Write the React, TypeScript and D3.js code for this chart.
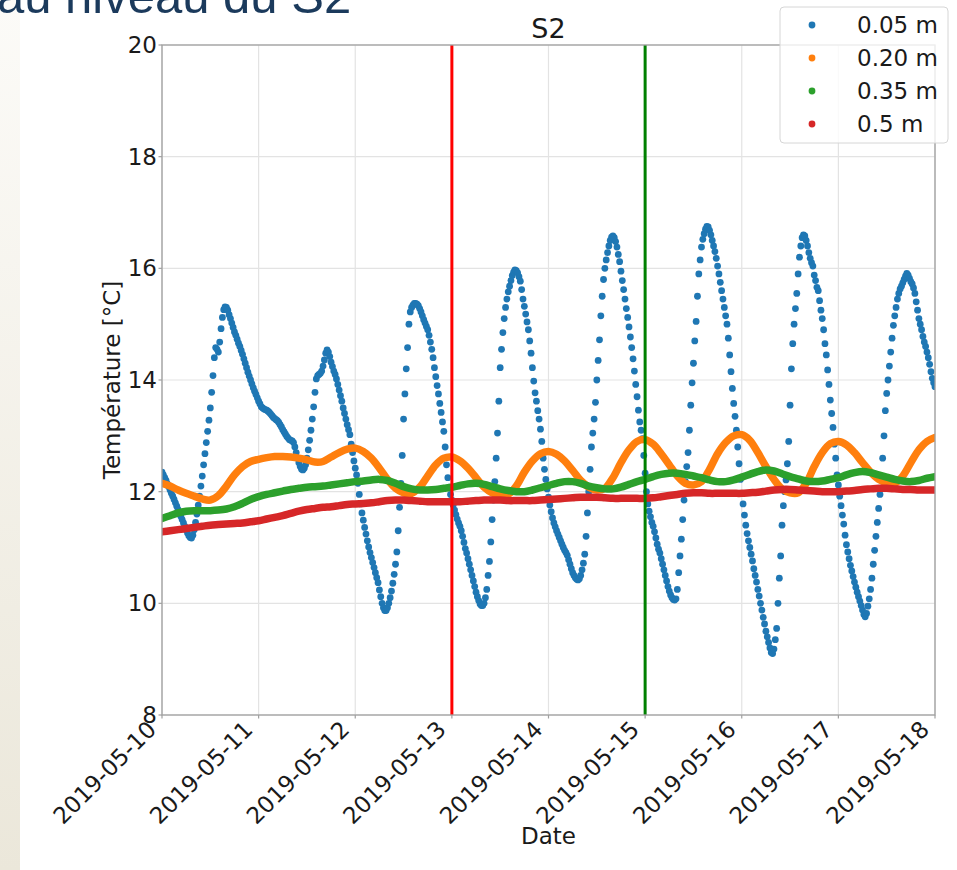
import React from 'react';
import * as d3 from 'd3';

const W = 957;
const H = 870;

const startDate = '2019-05-10';
const blueStepMinutes = 20;
const bandStepMinutes = 120;

const dateTicks = ['2019-05-10', '2019-05-11', '2019-05-12', '2019-05-13', '2019-05-14', '2019-05-15', '2019-05-16', '2019-05-17', '2019-05-18'];
const tempTicks = [8, 10, 12, 14, 16, 18, 20];
const legendLabels = ['0.05 m', '0.20 m', '0.35 m', '0.5 m'];
const seriesColors = ['#1f77b4', '#ff7f0e', '#2ca02c', '#d62728'];
const markerDates = ['2019-05-13', '2019-05-15'];
const markerColors = ['#ff0000', '#008000'];

// 0.05 m, every 20 minutes
const temp005 = [
  // 05-10
  12.35, 12.30, 12.25, 12.20, 12.14, 12.09, 12.03, 11.97, 11.92, 11.86, 11.80, 11.74,
  11.68, 11.62, 11.56, 11.50, 11.44, 11.38, 11.32, 11.26, 11.21, 11.18, 11.17, 11.22,
  11.32, 11.45, 11.60, 11.76, 11.92, 12.10, 12.28, 12.48, 12.68, 12.88, 13.08, 13.28,
  13.50, 13.78, 14.08, 14.40, 14.58, 14.55, 14.50, 14.68, 14.92, 15.12, 15.26, 15.31,
  15.30, 15.25, 15.17, 15.10, 15.02, 14.94, 14.86, 14.80, 14.73, 14.66, 14.60, 14.53,
  14.46, 14.38, 14.30, 14.22, 14.14, 14.07, 14.00, 13.93, 13.86, 13.80, 13.74, 13.68,
  // 05-11
  13.62, 13.57, 13.52, 13.50, 13.48, 13.47, 13.46, 13.44, 13.42, 13.39, 13.36, 13.33,
  13.31, 13.29, 13.27, 13.24, 13.20, 13.16, 13.11, 13.07, 13.03, 12.99, 12.96, 12.93,
  12.92, 12.91, 12.88, 12.80, 12.70, 12.60, 12.52, 12.45, 12.40, 12.39, 12.42, 12.48,
  12.60, 12.75, 12.92, 13.10, 13.30, 13.52, 13.78, 14.02, 14.08, 14.10, 14.12, 14.16,
  14.25, 14.36, 14.48, 14.54, 14.50, 14.42, 14.32, 14.24, 14.16, 14.10, 14.02, 13.92,
  13.82, 13.72, 13.62, 13.50, 13.40, 13.30, 13.20, 13.11, 13.02, 12.85, 12.70, 12.55,
  // 05-12
  12.42, 12.30, 12.15, 11.95, 11.78, 11.62, 11.49, 11.36, 11.24, 11.12, 11.01, 10.91,
  10.82, 10.73, 10.64, 10.55, 10.46, 10.37, 10.24, 10.12, 10.00, 9.92, 9.87, 9.87,
  9.92, 10.00, 10.10, 10.22, 10.36, 10.52, 10.70, 10.92, 11.30, 11.72, 12.15, 12.65,
  13.30, 13.75, 14.20, 14.58, 15.00, 15.22, 15.30, 15.34, 15.37, 15.37, 15.36, 15.33,
  15.28, 15.22, 15.15, 15.08, 15.02, 14.96, 14.90, 14.80, 14.68, 14.55, 14.40, 14.22,
  14.06, 13.90, 13.75, 13.58, 13.42, 13.25, 13.08, 12.80, 12.48, 12.25, 12.08, 11.95,
  // 05-13
  11.85, 11.76, 11.67, 11.59, 11.51, 11.44, 11.38, 11.30, 11.20, 11.09, 10.98, 10.90,
  10.80, 10.70, 10.60, 10.50, 10.40, 10.30, 10.20, 10.12, 10.05, 9.99, 9.96, 9.96,
  10.00, 10.10, 10.25, 10.50, 10.75, 11.10, 11.50, 11.85, 12.18, 12.60, 13.05, 13.62,
  14.22, 14.55, 14.85, 15.10, 15.30, 15.45, 15.58, 15.68, 15.78, 15.87, 15.93, 15.97,
  15.96, 15.92, 15.85, 15.77, 15.62, 15.45, 15.32, 15.18, 15.04, 14.90, 14.70, 14.48,
  14.22, 13.98, 13.77, 13.62, 13.45, 13.30, 13.12, 12.90, 12.60, 12.40, 12.22, 12.05,
  // 05-14
  11.90, 11.76, 11.64, 11.53, 11.44, 11.37, 11.30, 11.24, 11.18, 11.12, 11.06, 11.00,
  10.95, 10.91, 10.86, 10.78, 10.70, 10.62, 10.55, 10.50, 10.46, 10.43, 10.42, 10.44,
  10.50, 10.60, 10.72, 10.88, 11.20, 11.62, 12.00, 12.40, 12.80, 13.05, 13.30, 13.60,
  14.00, 14.35, 14.72, 15.15, 15.50, 15.80, 16.00, 16.15, 16.28, 16.40, 16.50, 16.56,
  16.58, 16.55, 16.48, 16.38, 16.25, 16.12, 15.95, 15.78, 15.62, 15.45, 15.28, 15.12,
  14.95, 14.77, 14.58, 14.38, 14.16, 13.92, 13.70, 13.46, 13.25, 13.10, 12.95, 12.65,
  // 05-15
  12.33, 12.00, 11.78, 11.65, 11.55, 11.45, 11.38, 11.28, 11.17, 11.06, 10.97, 10.90,
  10.80, 10.70, 10.60, 10.50, 10.40, 10.30, 10.22, 10.15, 10.10, 10.07, 10.06, 10.08,
  10.25, 10.55, 10.85, 11.15, 11.50, 11.85, 12.18, 12.45, 12.70, 13.10, 13.55, 13.95,
  14.30, 14.70, 15.05, 15.50, 15.90, 16.15, 16.38, 16.52, 16.62, 16.70, 16.75, 16.74,
  16.68, 16.60, 16.50, 16.40, 16.30, 16.18, 16.04, 15.90, 15.75, 15.60, 15.45, 15.30,
  15.15, 15.00, 14.75, 14.45, 14.15, 13.85, 13.58, 13.35, 13.10, 12.80, 12.50, 12.22,
  // 05-16
  11.97, 11.78, 11.58, 11.40, 11.25, 11.12, 11.00, 10.88, 10.76, 10.62, 10.50, 10.38,
  10.25, 10.13, 10.00, 9.88, 9.75, 9.63, 9.50, 9.40, 9.30, 9.20, 9.12, 9.10,
  9.18, 9.35, 9.55, 10.00, 10.45, 10.85, 11.40, 11.75, 12.00, 12.21, 12.50, 12.90,
  13.55, 14.20, 14.65, 15.00, 15.28, 15.55, 15.90, 16.20, 16.40, 16.55, 16.60, 16.58,
  16.50, 16.40, 16.28, 16.18, 16.10, 16.04, 15.88, 15.78, 15.66, 15.60, 15.42, 15.25,
  15.10, 14.90, 14.65, 14.45, 14.18, 13.92, 13.64, 13.40, 13.15, 12.85, 12.60, 12.30,
  // 05-17
  12.12, 11.92, 11.75, 11.58, 11.42, 11.22, 11.05, 10.92, 10.80, 10.68, 10.58, 10.48,
  10.38, 10.29, 10.20, 10.12, 10.04, 9.96, 9.88, 9.80, 9.76, 9.82, 9.95, 10.08,
  10.25, 10.45, 10.70, 10.95, 11.20, 11.45, 11.70, 11.95, 12.25, 12.60, 13.00, 13.45,
  13.76, 14.00, 14.25, 14.50, 14.75, 14.98, 15.15, 15.30, 15.45, 15.55, 15.63, 15.68,
  15.74, 15.80, 15.86, 15.91, 15.88, 15.82, 15.76, 15.72, 15.65, 15.55, 15.40, 15.25,
  15.10, 15.00, 14.90, 14.78, 14.68, 14.60, 14.50, 14.40, 14.28, 14.15, 14.03, 13.95,
  // 05-18 00:00
  13.88,
];

// 0.20 m, every 2 hours
const temp020 = [
  12.15, 12.10, 12.03, 11.97, 11.92, 11.87, 11.85, 11.93, 12.10, 12.30, 12.45, 12.54,
  12.58, 12.61, 12.63, 12.63, 12.62, 12.60, 12.57, 12.53, 12.54, 12.62, 12.70, 12.76,
  12.78, 12.72, 12.60, 12.42, 12.22, 12.06, 11.98, 11.97, 12.08, 12.28, 12.48, 12.60,
  12.62, 12.55, 12.42, 12.25, 12.08, 11.98, 11.94, 11.95, 12.10, 12.35, 12.55, 12.68,
  12.72, 12.67, 12.55, 12.38, 12.20, 12.08, 12.03, 12.06, 12.25, 12.52, 12.75, 12.90,
  12.93, 12.85, 12.68, 12.48, 12.28, 12.15, 12.12, 12.18, 12.40, 12.68, 12.88, 13.00,
  13.02, 12.92, 12.70, 12.45, 12.22, 12.05, 11.98, 11.98, 12.15, 12.45, 12.70, 12.86,
  12.90, 12.84, 12.70, 12.52, 12.35, 12.22, 12.16, 12.15, 12.28, 12.52, 12.75, 12.90,
  12.97,
];

// 0.35 m, every 2 hours
const temp035 = [
  11.52, 11.57, 11.62, 11.65, 11.66, 11.66, 11.66, 11.67, 11.69, 11.73, 11.79, 11.86,
  11.91, 11.95, 11.98, 12.01, 12.04, 12.06, 12.08, 12.09, 12.10, 12.12, 12.14, 12.16,
  12.18, 12.19, 12.21, 12.22, 12.20, 12.15, 12.09, 12.05, 12.03, 12.03, 12.04, 12.06,
  12.08, 12.11, 12.14, 12.15, 12.13, 12.09, 12.05, 12.02, 12.00, 12.00, 12.03, 12.07,
  12.11, 12.15, 12.18, 12.18, 12.15, 12.10, 12.07, 12.05, 12.05, 12.08, 12.13, 12.18,
  12.22, 12.27, 12.31, 12.33, 12.33, 12.31, 12.28, 12.25, 12.21, 12.18, 12.18, 12.21,
  12.26, 12.31, 12.36, 12.39, 12.37, 12.32, 12.27, 12.23, 12.19, 12.18, 12.19, 12.22,
  12.25, 12.30, 12.34, 12.36, 12.34, 12.30, 12.26, 12.22, 12.19, 12.18, 12.20, 12.24,
  12.27,
];

// 0.5 m, every 2 hours
const temp050 = [
  11.28, 11.30, 11.32, 11.34, 11.36, 11.38, 11.40, 11.41, 11.42, 11.43, 11.44, 11.46,
  11.48, 11.51, 11.54, 11.57, 11.61, 11.65, 11.68, 11.70, 11.72, 11.73, 11.75, 11.77,
  11.78, 11.79, 11.80, 11.82, 11.84, 11.85, 11.85, 11.84, 11.83, 11.82, 11.82, 11.82,
  11.82, 11.82, 11.83, 11.84, 11.85, 11.85, 11.85, 11.84, 11.84, 11.84, 11.84, 11.85,
  11.86, 11.87, 11.88, 11.89, 11.90, 11.90, 11.90, 11.89, 11.88, 11.88, 11.88, 11.88,
  11.88, 11.89, 11.91, 11.93, 11.95, 11.97, 11.98, 11.98, 11.97, 11.97, 11.97, 11.97,
  11.97, 11.98, 11.99, 12.01, 12.03, 12.04, 12.04, 12.03, 12.02, 12.01, 12.00, 12.00,
  12.00, 12.01, 12.02, 12.04, 12.05, 12.06, 12.06, 12.05, 12.04, 12.04, 12.03, 12.03,
  12.03,
];

const FONT = 'DejaVu Sans, sans-serif';

const parseDay = d3.utcParse('%Y-%m-%d');

export default function App() {
  const t0 = parseDay(startDate) as Date;
  const x = d3
    .scaleUtc()
    .domain([parseDay(dateTicks[0]) as Date, parseDay(dateTicks[dateTicks.length - 1]) as Date])
    .range([162, 935]);
  const y = d3.scaleLinear().domain([8, 20]).range([715, 45]);
  const [x0, x1] = x.range();
  const [yb, yt] = y.range();

  const timeAt = (i: number, stepMin: number) => new Date(t0.getTime() + i * stepMin * 60000);

  const bandSeries = [temp020, temp035, temp050];
  const line = d3
    .line<number>()
    .x((_, i) => x(timeAt(i, bandStepMinutes)))
    .y((v) => y(v))
    .curve(d3.curveCatmullRom.alpha(0.5));

  return (
    <svg
      width={W}
      height={H}
      viewBox={`0 0 ${W} ${H}`}
      style={{ position: 'absolute', left: 0, top: 0, background: '#ffffff' }}
    >
      <defs>
        <linearGradient id="strip" x1="0" y1="0" x2="0" y2="1">
          <stop offset="0" stopColor="#fcfbf8" />
          <stop offset="1" stopColor="#ebe7da" />
        </linearGradient>
        <clipPath id="plotClip">
          <rect x={x0} y={yt} width={x1 - x0} height={yb - yt} />
        </clipPath>
      </defs>
      <rect x={0} y={0} width={W} height={H} fill="#ffffff" />
      <rect x={0} y={0} width={20} height={H} fill="url(#strip)" />
      <text x={-3} y={13} fontFamily="Liberation Sans, Arial, sans-serif" fontSize={49} fill="#1b3a5c">
        au niveau du S2
      </text>

      {/* grid */}
      <g stroke="#e3e3e3" strokeWidth={1.2}>
        {dateTicks.map((d) => {
          const xx = x(parseDay(d) as Date);
          return <line key={d} x1={xx} x2={xx} y1={yt} y2={yb} />;
        })}
        {tempTicks.map((t) => (
          <line key={t} x1={x0} x2={x1} y1={y(t)} y2={y(t)} />
        ))}
      </g>

      <g clipPath="url(#plotClip)">
        <g fill={seriesColors[0]}>
          {temp005.map((v, i) => (
            <circle key={i} cx={x(timeAt(i, blueStepMinutes))} cy={y(v)} r={3.4} />
          ))}
        </g>
        {bandSeries.map((s, k) => (
          <path
            key={k}
            d={line(s) || ''}
            fill="none"
            stroke={seriesColors[k + 1]}
            strokeWidth={7.5}
            strokeLinecap="round"
            strokeLinejoin="round"
          />
        ))}
        {markerDates.map((d, k) => {
          const xx = x(parseDay(d) as Date);
          return <line key={d} x1={xx} x2={xx} y1={yt} y2={yb} stroke={markerColors[k]} strokeWidth={3} />;
        })}
      </g>

      {/* spines */}
      <rect x={x0} y={yt} width={x1 - x0} height={yb - yt} fill="none" stroke="#a0a0a0" strokeWidth={1.3} />

      {/* y ticks */}
      {tempTicks.map((t) => (
        <g key={t}>
          <line x1={x0 - 3.5} x2={x0} y1={y(t)} y2={y(t)} stroke="#a0a0a0" strokeWidth={1.2} />
          <text
            x={x0 - 5}
            y={y(t)}
            textAnchor="end"
            dominantBaseline="central"
            fontFamily={FONT}
            fontSize={23}
            fill="#1a1a1a"
          >
            {t}
          </text>
        </g>
      ))}

      {/* x ticks */}
      {dateTicks.map((d) => {
        const xx = x(parseDay(d) as Date);
        return (
          <g key={d}>
            <line x1={xx} x2={xx} y1={yb} y2={yb + 3.5} stroke="#a0a0a0" strokeWidth={1.2} />
            <text
              transform={`translate(${xx - 4.5},${yb + 16}) rotate(-45)`}
              textAnchor="end"
              fontFamily={FONT}
              fontSize={23}
              fill="#1a1a1a"
            >
              {d}
            </text>
          </g>
        );
      })}

      <text x={(x0 + x1) / 2} y={844} textAnchor="middle" fontFamily={FONT} fontSize={23} fill="#1a1a1a">
        Date
      </text>
      <text
        transform={`translate(120,${(yt + yb) / 2}) rotate(-90)`}
        textAnchor="middle"
        fontFamily={FONT}
        fontSize={23}
        fill="#1a1a1a"
      >
        Température [°C]
      </text>
      <text x={(x0 + x1) / 2} y={38} textAnchor="middle" fontFamily={FONT} fontSize={27} fill="#1a1a1a">
        S2
      </text>

      {/* legend */}
      <rect x={780} y={7} width={168} height={136} rx={4} fill="#ffffff" fillOpacity={0.8} stroke="#d6d6d6" strokeWidth={1} />
      {legendLabels.map((lab, k) => (
        <g key={lab}>
          <circle cx={812} cy={25 + k * 33} r={3.4} fill={seriesColors[k]} />
          <text
            x={857}
            y={25 + k * 33}
            dominantBaseline="central"
            fontFamily={FONT}
            fontSize={23}
            fill="#1a1a1a"
          >
            {lab}
          </text>
        </g>
      ))}
    </svg>
  );
}
